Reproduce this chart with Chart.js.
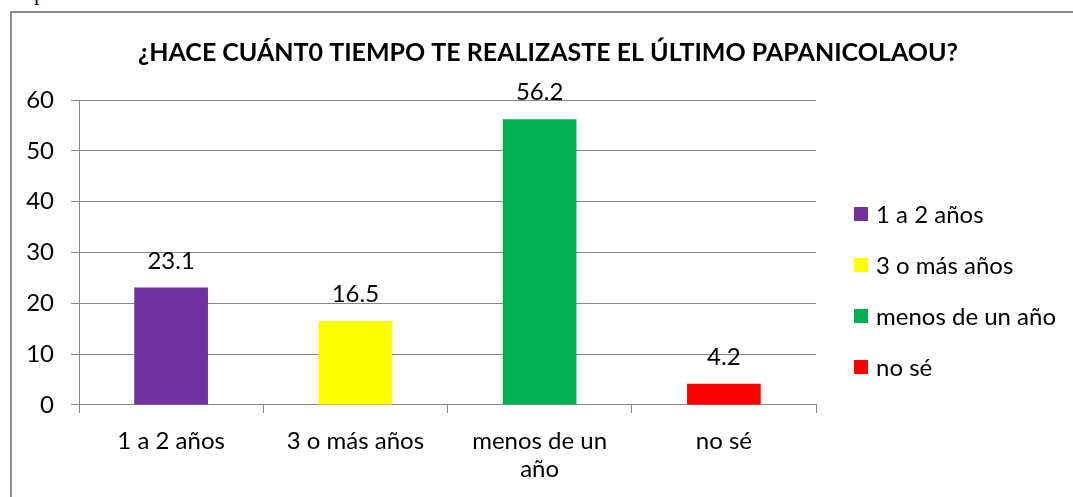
<!DOCTYPE html>
<html>
<head>
<meta charset="utf-8">
<script src="https://cdn.jsdelivr.net/npm/chart.js@4/dist/chart.umd.min.js"></script>
<style>
  html, body { margin: 0; padding: 0; background: #fff; overflow: hidden; }
  #wrap { position: relative; width: 1073px; height: 497px; overflow: hidden; }
  #frame { position: absolute; left: 10px; top: 11px; width: 1100px; height: 520px;
           border-left: 2px solid #8c8c8c; border-top: 2px solid #8c8c8c; box-sizing: border-box; }
  #frag { position: absolute; left: 34px; top: -18px; font: 22px/22px "Liberation Serif", serif; color: #000; }
  #c { position: absolute; left: 0; top: 0; }
</style>
</head>
<body>
<div id="wrap">
  <div id="frag">p</div>
  <div id="frame"></div>
  <canvas id="c" width="1073" height="497"></canvas>
</div>
<script>
const titleText = '¿HACE CUÁNT0 TIEMPO TE REALIZASTE EL ÚLTIMO PAPANICOLAOU?';
const categories = ['1 a 2 años', '3 o más años', 'menos de un año', 'no sé'];
const xTickLabels = ['1 a 2 años', '3 o más años', ['menos de un', 'año'], 'no sé'];
const values = [23.1, 16.5, 56.2, 4.2];
const barColors = ['#7030A0', '#FFFF00', '#00B050', '#FF0000'];
const yTicks = [0, 10, 20, 30, 40, 50, 60];

const FONT = 'Lato, "Open Sans", sans-serif';
const GRID = '#868686';

const titlePlugin = {
  id: 'titlePlugin',
  afterDraw(chart) {
    const ctx = chart.ctx;
    ctx.save();
    ctx.font = 'bold 25px ' + FONT;
    ctx.fillStyle = '#000';
    ctx.textAlign = 'center';
    ctx.textBaseline = 'middle';
    ctx.fillText(titleText, 548, 53);
    ctx.restore();
  }
};

const valueLabels = {
  id: 'valueLabels',
  afterDatasetsDraw(chart) {
    const ctx = chart.ctx;
    const meta = chart.getDatasetMeta(0);
    ctx.save();
    ctx.font = '24px ' + FONT;
    ctx.fillStyle = '#000';
    ctx.textAlign = 'center';
    ctx.textBaseline = 'alphabetic';
    meta.data.forEach((bar, i) => {
      ctx.fillText(String(values[i]), bar.x, bar.y - 19);
    });
    ctx.restore();
  }
};

const sideLegend = {
  id: 'sideLegend',
  afterDraw(chart) {
    const ctx = chart.ctx;
    const x0 = chart.chartArea.right + 38;
    const y0 = 214, step = 51;
    ctx.save();
    ctx.font = '24px ' + FONT;
    ctx.textAlign = 'left';
    ctx.textBaseline = 'middle';
    categories.forEach((name, i) => {
      const y = y0 + i * step;
      ctx.fillStyle = barColors[i];
      ctx.fillRect(x0, y - 7, 14, 14);
      ctx.fillStyle = '#000';
      ctx.fillText(name, x0 + 22, y + 1);
    });
    ctx.restore();
  }
};

new Chart(document.getElementById('c'), {
  type: 'bar',
  data: {
    labels: xTickLabels,
    datasets: [{
      data: values,
      backgroundColor: barColors,
      borderWidth: 0,
      barPercentage: 0.4,
      categoryPercentage: 1.0
    }]
  },
  options: {
    responsive: false,
    animation: false,
    devicePixelRatio: 1,
    layout: { padding: { left: 22, right: 257, top: 100, bottom: 0 } },
    plugins: {
      legend: { display: false },
      tooltip: { enabled: false },
      title: { display: false }
    },
    scales: {
      x: {
        offset: true,
        grid: { display: true, drawOnChartArea: false, drawTicks: true, tickLength: 8, color: GRID, offset: true },
        border: { display: true, color: GRID, width: 1 },
        ticks: {
          color: '#000',
          font: { family: FONT, size: 24, lineHeight: 1.1667 },
          padding: 14,
          autoSkip: false,
          maxRotation: 0,
          minRotation: 0
        }
      },
      y: {
        min: 0,
        max: 60,
        afterFit(axis) { axis.width = 57; },
        afterBuildTicks(axis) { axis.ticks = yTicks.map(v => ({ value: v })); },
        grid: { color: GRID, lineWidth: 1, drawTicks: true, tickLength: 8 },
        border: { display: true, color: GRID, width: 1 },
        ticks: {
          color: '#000',
          font: { family: FONT, size: 24 },
          padding: 17
        }
      }
    }
  },
  plugins: [valueLabels, sideLegend, titlePlugin]
});
</script>
</body>
</html>
